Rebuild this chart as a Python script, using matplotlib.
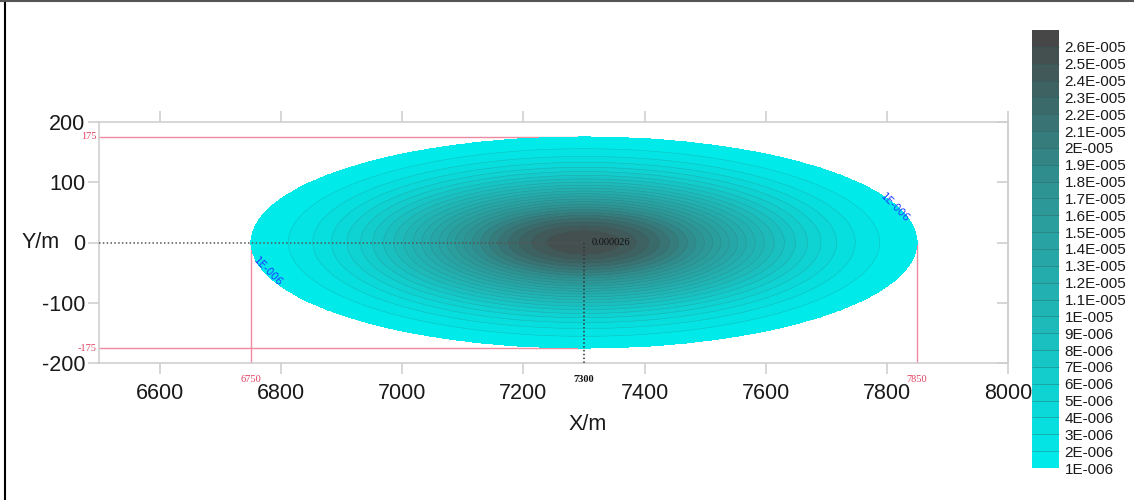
import numpy as np
import matplotlib
matplotlib.use("Agg")
import matplotlib.pyplot as plt
from matplotlib.colors import LinearSegmentedColormap, BoundaryNorm
from matplotlib.lines import Line2D

plt.rcParams["axes.unicode_minus"] = False

# plume parameters
x_center = 7300
y_center = 0
half_length = 550     # 6750 .. 7850
half_width = 175      # -175 .. 175
peak_value = 2.6e-5
edge_value = 1e-6

levels = [i * 1e-6 for i in range(1, 28)]          # 1E-006 .. 2.7E-005 (26 bands)
level_ticks = levels[:26]
level_labels = ["1E-006", "2E-006", "3E-006", "4E-006", "5E-006", "6E-006",
                "7E-006", "8E-006", "9E-006", "1E-005", "1.1E-005", "1.2E-005",
                "1.3E-005", "1.4E-005", "1.5E-005", "1.6E-005", "1.7E-005",
                "1.8E-005", "1.9E-005", "2E-005", "2.1E-005", "2.2E-005",
                "2.3E-005", "2.4E-005", "2.5E-005", "2.6E-005"]

x_ticks = [6600, 6800, 7000, 7200, 7400, 7600, 7800, 8000]
y_ticks = [-200, -100, 0, 100, 200]

# concentration field on a grid (gaussian-like decay, cut at the edge level)
xs = np.linspace(6500, 8000, 1500)
ys = np.linspace(-200, 200, 800)
X, Y = np.meshgrid(xs, ys)
r2 = ((X - x_center) / half_length) ** 2 + ((Y - y_center) / half_width) ** 2
k = np.log(peak_value / edge_value)
C = peak_value * np.exp(-k * r2)
C = np.ma.masked_where(r2 > 1.0, C)

cmap = LinearSegmentedColormap.from_list("plume", ["#00eaea", "#1fb8b8", "#2f9090", "#474747"], N=26)
norm = BoundaryNorm(levels, cmap.N)

fig = plt.figure(figsize=(11.34, 5), dpi=100)
ax = fig.add_axes([0.0877, 0.2734, 0.8012, 0.4832])

gray = "#cfcfcf"
red = "#f08aa0"

# reference lines (under the plume)
ax.plot([6500, x_center], [175, 175], color=red, lw=1, zorder=1)
ax.plot([6500, x_center], [-175, -175], color=red, lw=1, zorder=1)
ax.plot([6750, 6750], [0, -200], color=red, lw=1, zorder=1)
ax.plot([7850, 7850], [0, -200], color=red, lw=1, zorder=1)

cf = ax.contourf(X, Y, C, levels=levels, cmap=cmap, norm=norm, zorder=2)
ax.contour(X, Y, C, levels=levels[1:26], colors="#306060", linewidths=0.4, alpha=0.25, zorder=3)

ax.plot([6500, x_center], [0, 0], color="#555555", lw=1.1, ls=(0, (1, 1.5)), zorder=4)
ax.plot([x_center, x_center], [0, -200], color="#333333", lw=1.1, ls=(0, (1, 1.5)), zorder=4)

serif = "Liberation Serif"
ax.text(7312, 0, "0.000026", fontsize=7.5, family=serif, color="#111111", va="center", zorder=5)
ax.text(7813, 57, "1E-006", fontsize=7.5, color="#2040ff", rotation=-45, ha="center", va="center", zorder=5)
ax.text(6778, -49, "1E-006", fontsize=7.5, color="#2040ff", rotation=-45, ha="center", va="center", zorder=5)

tr = ax.get_yaxis_transform()
ax.text(-0.003, 175, "175", transform=tr, fontsize=7.5, family=serif, color="#e04060", ha="right", va="center")
ax.text(-0.003, -175, "-175", transform=tr, fontsize=7.5, family=serif, color="#e04060", ha="right", va="center")
trx = ax.get_xaxis_transform()
ax.text(6750, -0.065, "6750", transform=trx, fontsize=7.5, family=serif, color="#e04060", ha="center", va="center")
ax.text(7850, -0.065, "7850", transform=trx, fontsize=7.5, family=serif, color="#e04060", ha="center", va="center")
ax.text(7300, -0.065, "7300", transform=trx, fontsize=7.5, family=serif, color="#111111", ha="center", va="center", fontweight="bold")

ax.set_xlim(6500, 8000)
ax.set_ylim(-200, 200)
ax.set_xticks(x_ticks)
ax.set_yticks(y_ticks)
for s in ax.spines.values():
    s.set_color(gray)
    s.set_linewidth(1.2)
ax.tick_params(axis="x", top=True, direction="out", length=8, width=1.2, color=gray,
               labelsize=15.5, labelcolor="#1a1a1a", pad=6)
ax.tick_params(axis="y", left=True, right=False, direction="out", length=8, width=1.2, color=gray,
               labelsize=15.5, labelcolor="#1a1a1a", pad=2)
for lab in ax.get_xticklabels() + ax.get_yticklabels():
    lab.set_family("Liberation Sans")

sec = ax.secondary_yaxis("right")
sec.set_yticks(y_ticks)
sec.tick_params(direction="in", length=8, width=1.2, color=gray, labelright=False)
sec.spines["right"].set_color(gray)
sec.spines["right"].set_linewidth(1.2)

ax.set_xlabel("X/m", fontsize=15.5, family="Liberation Sans", color="#1a1a1a")
ax.xaxis.set_label_coords(0.537, -0.21)
ax.set_ylabel("Y/m", fontsize=15.5, family="Liberation Sans", color="#1a1a1a", rotation=0, va="center", ha="center")
ax.yaxis.set_label_coords(-0.065, 0.5)

cax = fig.add_axes([0.910, 0.064, 0.0238, 0.876])
cb = fig.colorbar(cf, cax=cax, ticks=level_ticks, drawedges=True)
cb.dividers.set_color("#2a5555")
cb.dividers.set_linewidth(0.5)
cb.dividers.set_alpha(0.5)
cb.outline.set_visible(False)
cb.ax.minorticks_off()
cb.ax.set_yticklabels(level_labels)
cb.ax.tick_params(which="both", length=0, pad=4, labelsize=11, labelcolor="#1a1a1a")
for lab in cb.ax.get_yticklabels():
    lab.set_family("Liberation Sans")

# outer frame of the picture (left and top edges)
fig.add_artist(Line2D([0.0045, 0.0045], [0, 1], color="black", lw=1.5, transform=fig.transFigure))
fig.add_artist(Line2D([0, 1], [0.998, 0.998], color="#555555", lw=1.5, transform=fig.transFigure))

fig.savefig("out.png", dpi=100)
